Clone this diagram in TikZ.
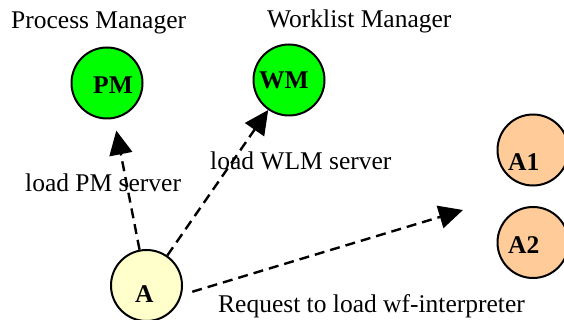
\documentclass[tikz,border=0pt]{standalone}
\usepackage{fontspec}
\setmainfont{Liberation Serif}
\usetikzlibrary{arrows.meta}
\definecolor{pmgreen}{HTML}{00FF00}
\definecolor{aorange}{HTML}{FFCC99}
\definecolor{ayellow}{HTML}{FFFFCC}
\tikzset{
  proc/.style={circle, draw=black, line width=2pt, minimum size=71pt, inner sep=0pt},
  lbl/.style={anchor=base west, inner sep=0pt, font=\fontsize{25.5}{30}\selectfont},
  blbl/.style={anchor=base west, inner sep=0pt, font=\fontsize{25.5}{30}\selectfont\bfseries},
  conn/.style={line width=2.4pt, dash pattern=on 10pt off 6pt, -{Triangle[length=24pt,width=23pt]}}
}
\begin{document}
\begin{tikzpicture}[x=1pt,y=-1pt]
\useasboundingbox (0,0) rectangle (564,320);
\clip (0,0) rectangle (564,320);
\node[proc, fill=pmgreen] (PM) at (107,83) {};
\node[proc, fill=pmgreen] (WM) at (289,80) {};
\node[proc, fill=ayellow] (A) at (146.5,285.5) {};
\node[proc, fill=aorange] (A1) at (533,150) {};
\node[proc, fill=aorange] (A2) at (533,242.5) {};
\node[blbl] (tPM) at (93,94) {PM};
\node[blbl] (tWM) at (259,89) {WM};
\node[blbl] (tA) at (135,302) {A};
\node[blbl] (tA1) at (508,171) {A1};
\node[blbl] (tA2) at (508,253) {A2};
\node[lbl] (pmname) at (11,29) {Process Manager};
\node[lbl] (wmname) at (267,28) {Worklist Manager};
\node[lbl] (lwlm) at (210,170) {load WLM server};
\node[lbl] (lpm) at (25,192) {load PM server};
\node[lbl] (lreq) at (218,312) {Request to load wf-interpreter};
\coordinate (req) at (463,210);
\draw[conn, shorten >=12pt] (A) -- (PM);
\draw[conn] (A) -- (WM);
\draw[conn, shorten <=11pt] (A.-15) -- (req);
\end{tikzpicture}
\end{document}
